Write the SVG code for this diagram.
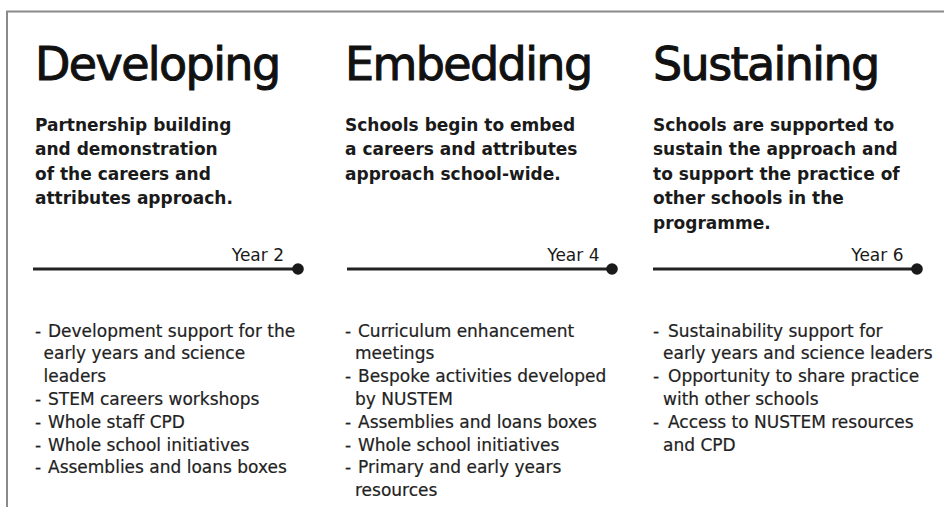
<svg xmlns="http://www.w3.org/2000/svg" width="944" height="507" viewBox="0 0 944 507">
  <style>
    .frame { fill: none; stroke: #8a8a8a; stroke-width: 2; }
    .title { font-family: "DejaVu Sans", "Liberation Sans", sans-serif; font-size: 46px; letter-spacing: -1.6px; fill: #111; stroke: #111; stroke-width: 1; }
    .lead { font-family: "DejaVu Sans", "Liberation Sans", sans-serif; font-size: 17px; font-weight: bold; fill: #1a1a1a; }
    .item { font-family: "DejaVu Sans", "Liberation Sans", sans-serif; font-size: 17px; fill: #222; stroke: #222; stroke-width: 0.2; }
    .year { font-family: "DejaVu Sans", "Liberation Sans", sans-serif; font-size: 17px; fill: #1a1a1a; text-anchor: end; }
    .track { stroke: #222; stroke-width: 3; }
    .stop { fill: #1a1a1a; }
  </style>

  <rect width="944" height="507" fill="#ffffff"/>
  <!-- open frame: top and left edges only -->
  <path class="frame" d="M7 507 V11.5 H944"/>

  <!-- phase 1 -->
  <g id="developing">
    <text class="title" x="35" y="80">Developing</text>
    <text class="lead">
      <tspan x="35" y="130.5">Partnership building</tspan>
      <tspan x="35" y="155">and demonstration</tspan>
      <tspan x="35" y="179.5">of the careers and</tspan>
      <tspan x="35" y="204">attributes approach.</tspan>
    </text>
    <text class="year" x="284" y="261">Year 2</text>
    <text class="item">
      <tspan x="35" y="336.5">-</tspan><tspan x="48" y="336.5">Development support for the</tspan>
      <tspan x="43.5" y="359.3">early years and science</tspan>
      <tspan x="43.5" y="382.1">leaders</tspan>
      <tspan x="35" y="404.9">-</tspan><tspan x="48" y="404.9">STEM careers workshops</tspan>
      <tspan x="35" y="427.7">-</tspan><tspan x="48" y="427.7">Whole staff CPD</tspan>
      <tspan x="35" y="450.5">-</tspan><tspan x="48" y="450.5">Whole school initiatives</tspan>
      <tspan x="35" y="473.3">-</tspan><tspan x="48" y="473.3">Assemblies and loans boxes</tspan>
    </text>
  </g>

  <!-- phase 2 -->
  <g id="embedding">
    <text class="title" x="345" y="80">Embedding</text>
    <text class="lead">
      <tspan x="345" y="130.5">Schools begin to embed</tspan>
      <tspan x="345" y="155">a careers and attributes</tspan>
      <tspan x="345" y="179.5">approach school-wide.</tspan>
    </text>
    <text class="year" x="599.5" y="261">Year 4</text>
    <text class="item">
      <tspan x="345" y="336.5">-</tspan><tspan x="358" y="336.5">Curriculum enhancement</tspan>
      <tspan x="355" y="359.3">meetings</tspan>
      <tspan x="345" y="382.1">-</tspan><tspan x="358" y="382.1">Bespoke activities developed</tspan>
      <tspan x="355" y="404.9">by NUSTEM</tspan>
      <tspan x="345" y="427.7">-</tspan><tspan x="358" y="427.7">Assemblies and loans boxes</tspan>
      <tspan x="345" y="450.5">-</tspan><tspan x="358" y="450.5">Whole school initiatives</tspan>
      <tspan x="345" y="473.3">-</tspan><tspan x="358" y="473.3">Primary and early years</tspan>
      <tspan x="355" y="496.1">resources</tspan>
    </text>
  </g>

  <!-- phase 3 -->
  <g id="sustaining">
    <text class="title" x="653" y="80">Sustaining</text>
    <text class="lead">
      <tspan x="653" y="130.5">Schools are supported to</tspan>
      <tspan x="653" y="155">sustain the approach and</tspan>
      <tspan x="653" y="179.5">to support the practice of</tspan>
      <tspan x="653" y="204">other schools in the</tspan>
      <tspan x="653" y="228.5">programme.</tspan>
    </text>
    <text class="year" x="903.5" y="261">Year 6</text>
    <text class="item">
      <tspan x="653" y="336.5">-</tspan><tspan x="668" y="336.5">Sustainability support for</tspan>
      <tspan x="663" y="359.3">early years and science leaders</tspan>
      <tspan x="653" y="382.1">-</tspan><tspan x="668" y="382.1">Opportunity to share practice</tspan>
      <tspan x="663" y="404.9">with other schools</tspan>
      <tspan x="653" y="427.7">-</tspan><tspan x="668" y="427.7">Access to NUSTEM resources</tspan>
      <tspan x="663" y="450.5">and CPD</tspan>
    </text>
  </g>

  <!-- timeline segments ending in milestone dots -->
  <g id="connectors">
    <line class="track" x1="33" y1="269" x2="298" y2="269"/>
    <circle class="stop" cx="298" cy="269" r="5.8"/>
    <line class="track" x1="347" y1="269" x2="612" y2="269"/>
    <circle class="stop" cx="612" cy="269" r="5.8"/>
    <line class="track" x1="653" y1="269" x2="917" y2="269"/>
    <circle class="stop" cx="917" cy="269" r="5.8"/>
  </g>
</svg>
